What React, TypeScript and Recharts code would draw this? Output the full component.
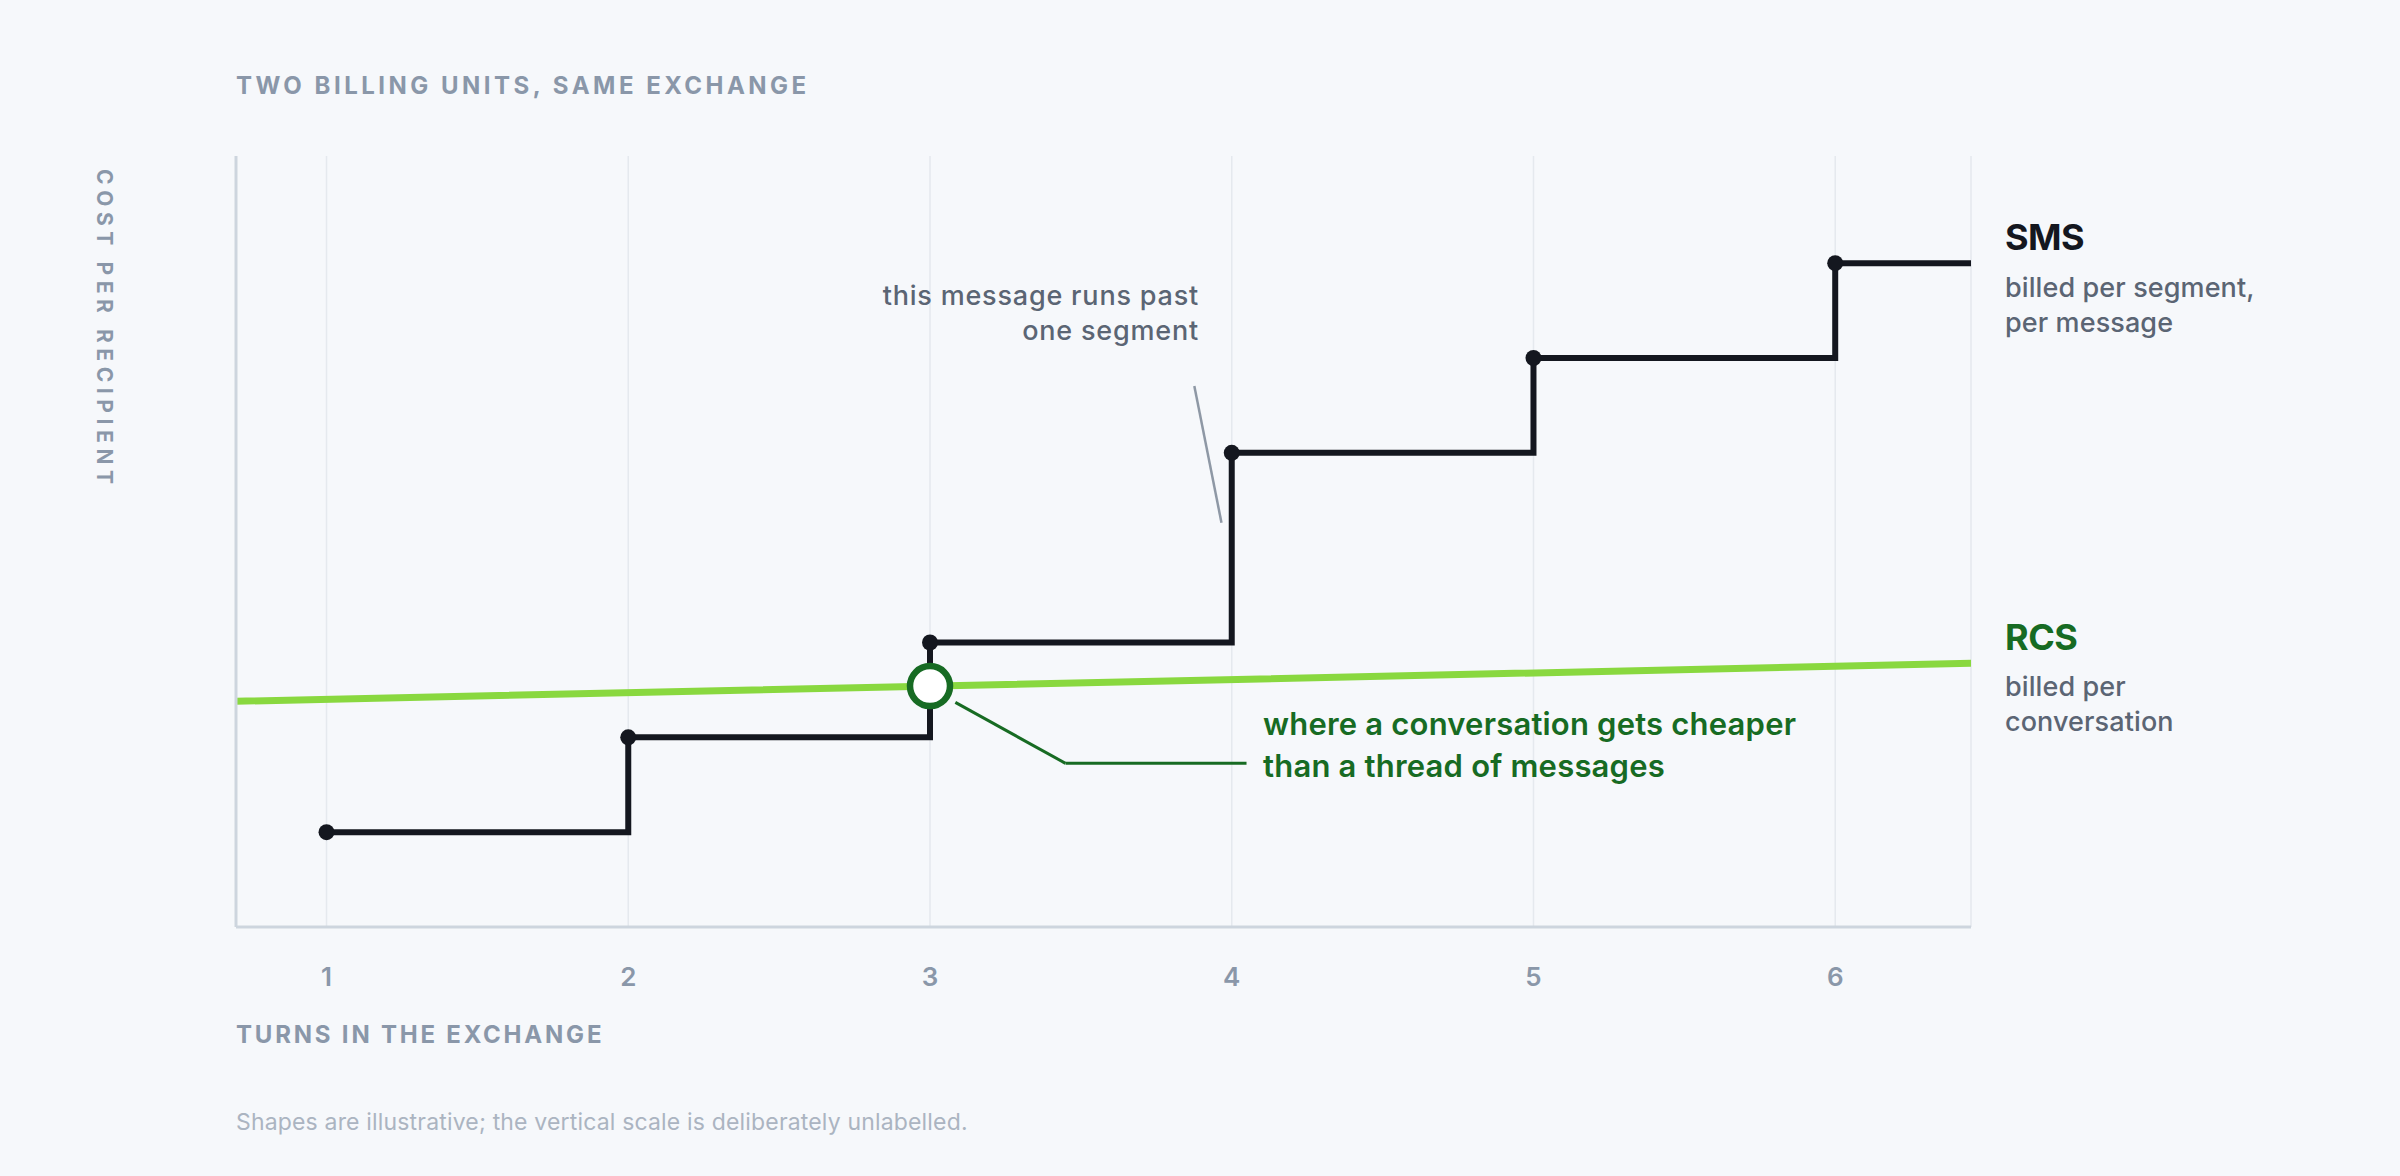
import React from 'react';
import {
  LineChart,
  Line,
  XAxis,
  YAxis,
  CartesianGrid,
  ReferenceDot,
  ReferenceLine,
} from 'recharts';

// ---- data ----
const turns = [1, 2, 3, 4, 5, 6];
const smsCost = [1, 2, 3, 5, 6, 7];
const tickLabels = ['1', '2', '3', '4', '5', '6'];
const rcsTurns = [0.7, 6.45];
const rcsCost = [2.38, 2.78];
const crossoverTurn = 3;
const crossoverCost = 2.54;

const X_DOMAIN: [number, number] = [0.7, 6.45];
const Y_DOMAIN: [number, number] = [0, 8.13];

// annotation leaders (data coordinates)
const segmentNoteLeader = [
  { x: 3.876, y: 5.705 },
  { x: 3.966, y: 4.263 },
];
const crossNoteLeader1 = [
  { x: 3.084, y: 2.368 },
  { x: 3.449, y: 1.726 },
];
const crossNoteLeader2 = [
  { x: 3.449, y: 1.726 },
  { x: 4.049, y: 1.726 },
];

const smsData = [
  ...turns.map((t, i) => ({ turn: t, sms: smsCost[i], dot: true })),
  { turn: X_DOMAIN[1], sms: smsCost[smsCost.length - 1], dot: false },
];
const rcsData = rcsTurns.map((t, i) => ({ turn: t, rcs: rcsCost[i] }));

const FONT = 'Inter, "Noto Sans", sans-serif';
const BG = '#f6f8fb';
const INK = '#14171f';
const LIME = '#89d83f';
const DARK_GREEN = '#176b23';
const MUTED = '#5b6574';
const AXIS_GRAY = '#8a97a9';

const SmsDot = (props: any) => {
  const { cx, cy, payload, index } = props;
  if (!payload || !payload.dot) return <g key={`d${index}`} />;
  return <circle key={`d${index}`} cx={cx} cy={cy} r={8} fill={INK} />;
};

const Tick = (props: any) => {
  const { x, y, payload } = props;
  const idx = turns.indexOf(payload.value);
  return (
    <text
      x={x}
      y={y + 59}
      textAnchor="middle"
      fontFamily={FONT}
      fontSize={26}
      fontWeight={600}
      fill={AXIS_GRAY}
    >
      {idx >= 0 ? tickLabels[idx] : payload.value}
    </text>
  );
};

export default function App() {
  return (
    <div
      style={{
        position: 'absolute',
        left: 0,
        top: 0,
        width: 2400,
        height: 1176,
        background: BG,
        fontFamily: FONT,
        overflow: 'hidden',
      }}
    >
      <LineChart
        width={2400}
        height={1176}
        margin={{ top: 156, right: 429, bottom: 219, left: 226 }}
      >
        <CartesianGrid horizontal={false} stroke="#e5e9ee" strokeWidth={1.5} />
        <XAxis
          dataKey="turn"
          type="number"
          domain={X_DOMAIN}
          ticks={turns}
          allowDataOverflow
          height={30}
          axisLine={{ stroke: '#cdd5de', strokeWidth: 3 }}
          tickLine={false}
          tickSize={0}
          tickMargin={0}
          tick={<Tick />}
          interval={0}
        />
        <YAxis
          type="number"
          domain={Y_DOMAIN}
          allowDataOverflow
          width={10}
          tick={false}
          tickLine={false}
          axisLine={{ stroke: '#cdd5de', strokeWidth: 3 }}
        />
        <ReferenceLine
          segment={segmentNoteLeader}
          stroke="#8e98a5"
          strokeWidth={2.5}
          ifOverflow="visible"
        />
        <Line
          data={rcsData}
          dataKey="rcs"
          type="linear"
          stroke={LIME}
          strokeWidth={7}
          strokeLinecap="round"
          dot={false}
          activeDot={false}
          isAnimationActive={false}
        />
        <Line
          data={smsData}
          dataKey="sms"
          type="stepAfter"
          stroke={INK}
          strokeWidth={6}
          strokeLinecap="round"
          strokeLinejoin="miter"
          dot={<SmsDot />}
          activeDot={false}
          isAnimationActive={false}
        />
        <ReferenceLine
          segment={crossNoteLeader1}
          stroke={DARK_GREEN}
          strokeWidth={3}
          ifOverflow="visible"
        />
        <ReferenceLine
          segment={crossNoteLeader2}
          stroke={DARK_GREEN}
          strokeWidth={3}
          ifOverflow="visible"
        />
        <ReferenceDot
          x={crossoverTurn}
          y={crossoverCost}
          r={20}
          fill="#ffffff"
          stroke={DARK_GREEN}
          strokeWidth={6.5}
          ifOverflow="visible"
        />
      </LineChart>
      <svg
        width={2400}
        height={1176}
        style={{ position: 'absolute', left: 0, top: 0, pointerEvents: 'none' }}
      >
        <g fontFamily={FONT}>
          <text x={236} y={94} fontSize={24} fontWeight={700} fill={AXIS_GRAY} letterSpacing={3.5}>
            TWO BILLING UNITS, SAME EXCHANGE
          </text>
          <text
            transform="translate(97,169) rotate(90)"
            fontSize={21}
            fontWeight={700}
            fill={AXIS_GRAY}
            letterSpacing={5.6}
          >
            COST PER RECIPIENT
          </text>
          <text x={236} y={1043} fontSize={24} fontWeight={700} fill={AXIS_GRAY} letterSpacing={2.8}>
            TURNS IN THE EXCHANGE
          </text>
          <text x={236} y={1130} fontSize={23} fontWeight={400} fill="#abb4c1" letterSpacing={0.17}>
            Shapes are illustrative; the vertical scale is deliberately unlabelled.
          </text>

          <text x={2005} y={250} fontSize={36} fontWeight={700} fill={INK} letterSpacing={-0.5}>
            SMS
          </text>
          <text x={2005} y={297} fontSize={27} fontWeight={500} fill={MUTED} letterSpacing={0.1}>
            billed per segment,
          </text>
          <text x={2005} y={332} fontSize={27} fontWeight={500} fill={MUTED} letterSpacing={0.1}>
            per message
          </text>

          <text x={2005} y={650} fontSize={36} fontWeight={700} fill={DARK_GREEN} letterSpacing={-0.5}>
            RCS
          </text>
          <text x={2005} y={696} fontSize={27} fontWeight={500} fill={MUTED} letterSpacing={0.1}>
            billed per
          </text>
          <text x={2005} y={731} fontSize={27} fontWeight={500} fill={MUTED} letterSpacing={0.1}>
            conversation
          </text>

          <text x={1199} y={305} textAnchor="end" fontSize={27} fontWeight={500} fill={MUTED} letterSpacing={0.8}>
            this message runs past
          </text>
          <text x={1199} y={340} textAnchor="end" fontSize={27} fontWeight={500} fill={MUTED} letterSpacing={0.8}>
            one segment
          </text>

          <text x={1263} y={735} fontSize={31} fontWeight={600} fill={DARK_GREEN} letterSpacing={0.2}>
            where a conversation gets cheaper
          </text>
          <text x={1263} y={777} fontSize={31} fontWeight={600} fill={DARK_GREEN} letterSpacing={0.2}>
            than a thread of messages
          </text>
        </g>
      </svg>
    </div>
  );
}
